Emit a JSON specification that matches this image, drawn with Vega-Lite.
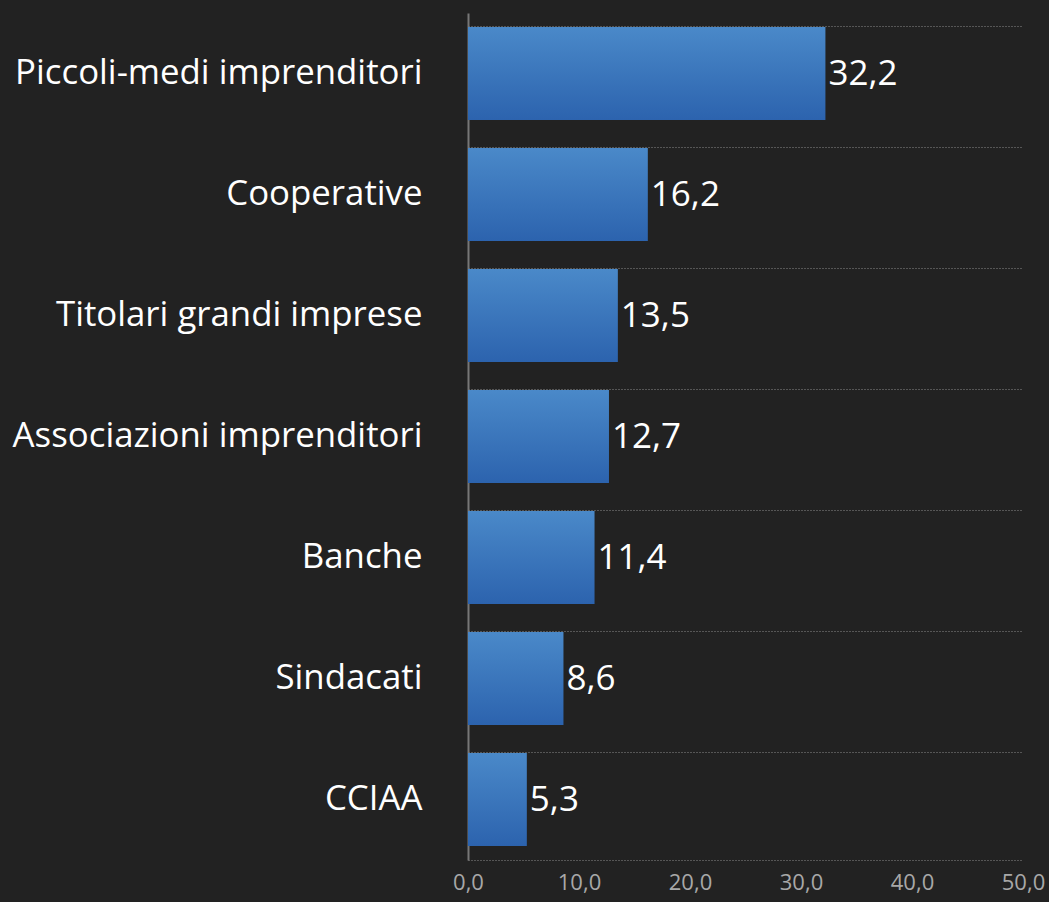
{
  "$schema": "https://vega.github.io/schema/vega-lite/v6.json",
  "autosize": "none",
  "width": 555,
  "height": 847,
  "padding": {"left": 468, "top": 13, "right": 26, "bottom": 42},
  "background": "#222222",
  "config": {
    "view": {"stroke": null},
    "locale": {"number": {"decimal": ",", "thousands": ".", "grouping": [3], "currency": ["€", ""]}},
    "font": "Open Sans"
  },
  "data": {
    "values": [
      {"categoria": "Piccoli-medi imprenditori", "valore": 32.2},
      {"categoria": "Cooperative", "valore": 16.2},
      {"categoria": "Titolari grandi imprese", "valore": 13.5},
      {"categoria": "Associazioni imprenditori", "valore": 12.7},
      {"categoria": "Banche", "valore": 11.4},
      {"categoria": "Sindacati", "valore": 8.6},
      {"categoria": "CCIAA", "valore": 5.3}
    ]
  },
  "encoding": {
    "y": {
      "field": "categoria",
      "type": "nominal",
      "sort": null,
      "scale": {"paddingInner": 0.23, "paddingOuter": 0.115},
      "axis": {
        "title": null,
        "grid": true,
        "bandPosition": 0,
        "gridColor": "#8a8a8a",
        "gridDash": [1, 2],
        "gridWidth": 1,
        "ticks": false,
        "domainColor": "#777777",
        "domainWidth": 2,
        "labelColor": "#ffffff",
        "labelFontSize": 34.8,
        "labelPadding": 46,
        "labelLimit": 460
      }
    },
    "x": {
      "field": "valore",
      "type": "quantitative",
      "scale": {"domain": [0, 50], "nice": false},
      "axis": {
        "title": null,
        "values": [0, 10, 20, 30, 40, 50],
        "format": ".1f",
        "grid": false,
        "ticks": false,
        "domainColor": "#8a8a8a",
        "domainDash": [1, 2],
        "domainWidth": 1,
        "labelColor": "#a8a8a8",
        "labelFontSize": 22,
        "labelPadding": 12,
        "labelFlush": false
      }
    }
  },
  "layer": [
    {
      "mark": {
        "type": "bar",
        "color": {
          "gradient": "linear",
          "x1": 0, "y1": 0, "x2": 0, "y2": 1,
          "stops": [
            {"offset": 0, "color": "#4a89c9"},
            {"offset": 1, "color": "#2c63ae"}
          ]
        }
      }
    },
    {
      "mark": {"type": "text", "align": "left", "baseline": "middle", "dx": 3, "fontSize": 35, "color": "#ffffff"},
      "encoding": {"text": {"field": "valore", "type": "quantitative", "format": ".1f"}}
    }
  ]
}
